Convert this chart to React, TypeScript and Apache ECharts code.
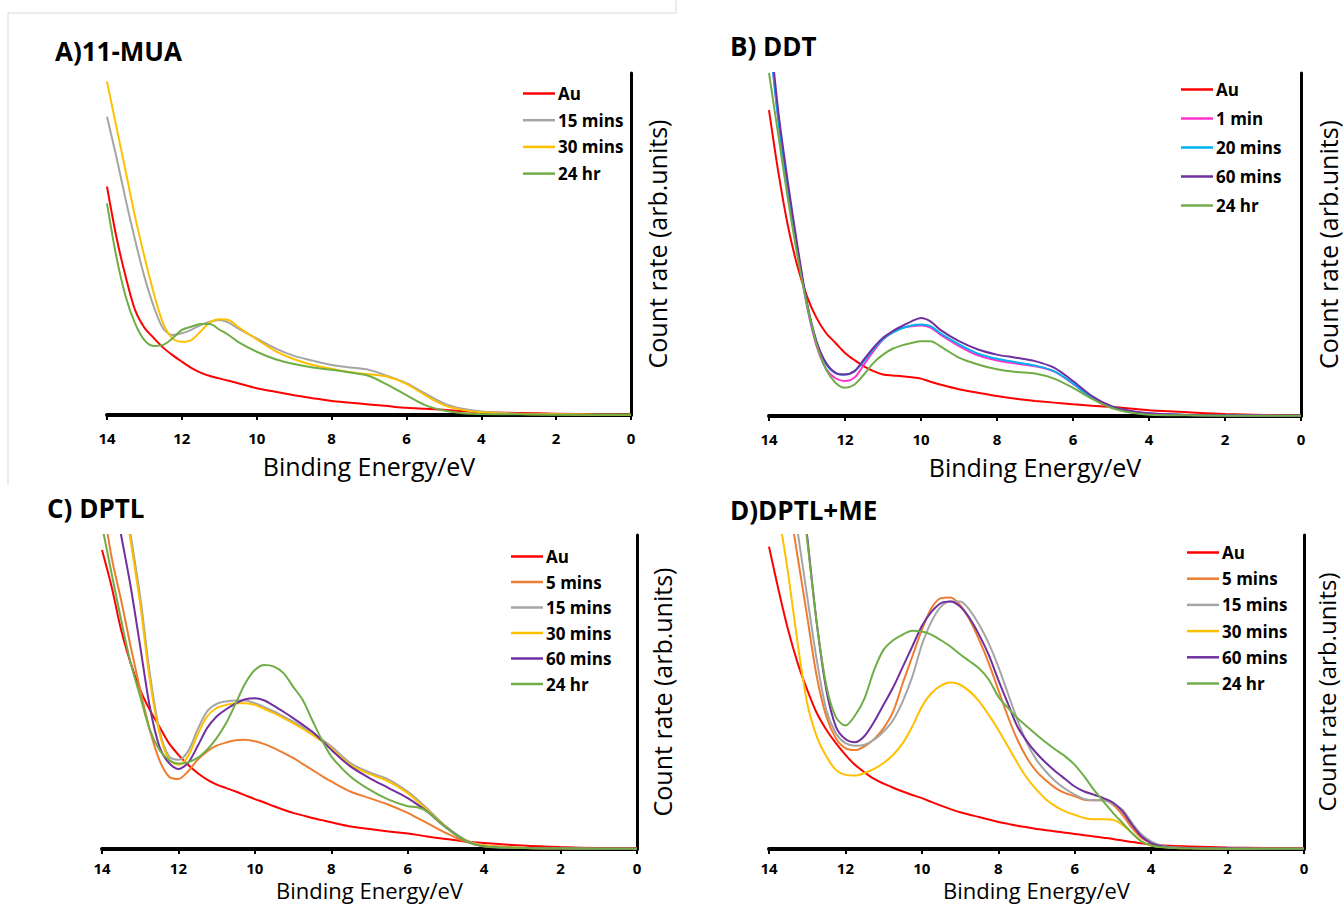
import React, { useEffect, useRef } from "react";
import * as echarts from "echarts";

// ---------- Panel A: 11-MUA ----------
const ENERGY_A = [14, 13.75, 13.5, 13.25, 13, 12.75, 12.5, 12.25, 12, 11.75, 11.5, 11.25, 11, 10.75, 10.5, 10, 9.5, 9, 8.5, 8, 7.5, 7, 6.5, 6, 5.5, 5, 4.5, 4, 3, 2, 1, 0];
const A_AU = [66.8, 52.1, 40.4, 30.7, 25.5, 22.5, 19.7, 17.5, 15.6, 13.8, 12.4, 11.4, 10.7, 10, 9.3, 7.8, 6.8, 5.8, 4.9, 4.1, 3.6, 3.1, 2.6, 2.1, 1.8, 1.5, 1.1, 0.8, 0.6, 0.4, 0.2, 0.1];
const A_15 = [87.2, 75.5, 62.9, 51.2, 40.4, 31.7, 25.3, 23.4, 23.9, 24.9, 26.3, 27.3, 27.8, 27, 25.3, 22.4, 19.5, 17.3, 15.9, 14.6, 13.9, 13.2, 11.4, 9.3, 6.3, 3.4, 1.8, 1.0, 0.4, 0.2, 0.1, 0.1];
const A_30 = [97.5, 84.3, 71.2, 58, 46.3, 35.6, 26.8, 22.4, 21.4, 21.9, 24.4, 27.1, 28, 27.8, 25.8, 22.1, 18.7, 16.3, 14.6, 13.5, 12.5, 11.9, 11.2, 9.1, 5.8, 2.9, 1.5, 0.8, 0.3, 0.2, 0.1, 0.1];
const A_24 = [61.9, 46.3, 34.6, 26.8, 21.9, 20.2, 20.5, 22.4, 24.9, 25.8, 26.6, 26.6, 25, 23.4, 21.4, 18.5, 16.3, 14.9, 13.9, 13.2, 12.4, 11.4, 8.8, 5.8, 2.9, 1.3, 0.5, 0.3, 0.2, 0.1, 0.1, 0.1];

// ---------- Panel B: DDT ----------
const ENERGY_B = [14, 13.75, 13.5, 13.25, 13, 12.75, 12.5, 12.25, 12, 11.75, 11.5, 11.25, 11, 10.75, 10.5, 10.25, 10, 9.75, 9.5, 9, 8.5, 8, 7.5, 7, 6.5, 6, 5.5, 5, 4.5, 4, 3, 2, 1, 0];
const B_AU = [89.2, 70.8, 55.3, 43.6, 34.9, 28.6, 24.2, 21.3, 18.4, 16.3, 14.5, 13.1, 12.1, 11.8, 11.6, 11.3, 10.9, 10, 9.2, 7.8, 6.8, 5.8, 5, 4.4, 3.9, 3.4, 3, 2.7, 2.2, 1.7, 1.1, 0.6, 0.3, 0.2];
const B_1 = [112, 86, 66, 48, 32, 20.5, 13.8, 11, 10.2, 11.2, 15, 18.9, 22.3, 24.4, 25.7, 26.2, 26.4, 25.8, 23.8, 20.4, 17.7, 16.2, 15.3, 14.5, 13, 9.4, 5.2, 2.6, 1.2, 0.6, 0.3, 0.2, 0.1, 0.1];
const B_20 = [112, 86, 66.5, 48.5, 32.5, 21.5, 15.2, 12.5, 12.1, 13, 16, 19.5, 22.4, 24.3, 25.6, 26.4, 26.7, 26.2, 24.2, 20.9, 18.2, 16.7, 15.7, 14.7, 13.1, 9.5, 5.3, 2.7, 1.3, 0.7, 0.3, 0.2, 0.1, 0.1];
const B_60 = [115, 88.3, 67.9, 49.5, 33, 21.8, 15.5, 12.6, 12.1, 13.1, 16.5, 19.9, 22.8, 24.7, 26.2, 27.6, 28.6, 27.6, 25.2, 21.8, 19.4, 17.9, 17, 16, 14.1, 10.2, 5.8, 2.9, 1.5, 0.8, 0.3, 0.2, 0.1, 0.1];
const B_24 = [100, 81.5, 63, 46.6, 32.5, 21, 13.6, 9.7, 8.2, 9.2, 12.1, 15.5, 17.9, 19.6, 20.6, 21.3, 21.8, 21.8, 20.4, 17, 15, 13.6, 12.8, 12.4, 10.9, 8.2, 5, 2.4, 1, 0.4, 0.2, 0.1, 0.1, 0.1];

// ---------- Panel C: DPTL ----------
const ENERGY_C = [14, 13.75, 13.5, 13.25, 13, 12.75, 12.5, 12.25, 12, 11.75, 11.5, 11.25, 11, 10.75, 10.5, 10.25, 10, 9.75, 9.5, 9.25, 9, 8.75, 8.5, 8.25, 8, 7.5, 7, 6.5, 6, 5.75, 5.5, 5, 4.5, 4, 3, 2, 1, 0];
const C_AU = [95.2, 83.6, 69.8, 59.2, 50.7, 44.3, 39, 33.7, 30, 26.8, 24.2, 22.1, 20.5, 19.4, 18.3, 17.1, 15.9, 14.8, 13.6, 12.5, 11.5, 10.7, 9.9, 9.2, 8.5, 7.2, 6.4, 5.6, 4.9, 4.5, 4, 3.2, 2.4, 1.9, 1.1, 0.6, 0.3, 0.2];
const C_5 = [112, 93, 79.3, 64.5, 50.7, 38, 28.4, 23.1, 22.3, 24.7, 28.4, 31.1, 32.9, 33.9, 34.6, 34.8, 34.3, 33.4, 32.1, 30.6, 29, 27.1, 25.2, 23.3, 21.5, 18.3, 16.2, 14.1, 11.5, 9.9, 8.3, 5.1, 2.4, 1.1, 0.4, 0.2, 0.1, 0.1];
const C_15 = [160, 140, 120, 100, 80.4, 56, 38, 29.5, 28.4, 31.1, 38, 43.8, 46.2, 47, 47.3, 47.3, 46.4, 45.2, 43.8, 42.2, 40.6, 38.8, 36.9, 34.9, 32.7, 27.4, 24.4, 22.1, 18.3, 15.8, 13, 7.2, 3, 1.1, 0.4, 0.2, 0.1, 0.1];
const C_30 = [155, 135, 117, 98, 78, 54, 37, 28.5, 26.8, 29.5, 36.4, 42.2, 44.9, 45.9, 46.4, 46.4, 45.9, 44.6, 43.3, 41.7, 40.1, 38.3, 36.4, 34.3, 32.1, 26.8, 23.9, 21.5, 17.8, 15.2, 12.5, 7, 2.8, 1.1, 0.4, 0.2, 0.1, 0.1];
const C_60 = [135, 117, 100, 83.6, 64.5, 45.4, 32.7, 27.4, 25.5, 27.4, 32.7, 38.5, 42.2, 44.5, 46.4, 47.7, 48, 47.3, 45.6, 43.7, 41.7, 39.6, 37.4, 34.6, 31.6, 26.3, 22.6, 19.4, 16.2, 14.2, 12, 6.9, 2.7, 0.8, 0.3, 0.2, 0.1, 0.1];
const C_24 = [103, 87.8, 73, 59.2, 48.6, 38, 31.6, 28.4, 27.2, 27.6, 29, 31.6, 35.3, 40.1, 46.4, 52.8, 57, 58.6, 58.1, 56, 51.7, 47.5, 41.1, 34.8, 29.5, 23.1, 18.9, 15.7, 13.6, 13.3, 12, 6.9, 2.7, 0.8, 0.3, 0.2, 0.1, 0.1];

// ---------- Panel D: DPTL+ME ----------
const ENERGY_D = [14, 13.75, 13.5, 13.25, 13, 12.75, 12.5, 12.25, 12, 11.75, 11.5, 11.25, 11, 10.75, 10.5, 10.25, 10, 9.75, 9.5, 9.25, 9, 8.75, 8.5, 8.25, 8, 7.75, 7.5, 7.25, 7, 6.75, 6.5, 6.25, 6, 5.75, 5.5, 5.25, 5, 4.75, 4.5, 4.25, 4, 3.75, 3.5, 3, 2, 1, 0];
const D_AU = [96.3, 82.5, 69.8, 59.2, 50.7, 43.3, 38, 33.7, 30, 26.8, 24.4, 22.3, 20.8, 19.5, 18.3, 17.2, 16.2, 15, 13.8, 12.7, 11.7, 10.9, 10.2, 9.4, 8.6, 8, 7.4, 6.9, 6.4, 6, 5.6, 5.2, 4.8, 4.4, 4, 3.6, 3.2, 2.7, 2.2, 1.8, 1.4, 1.2, 1, 0.8, 0.5, 0.3, 0.2];
const D_5 = [148, 130, 112, 93, 74, 54.9, 42.2, 35.3, 32.1, 31.5, 32.7, 35, 38.5, 43.8, 52.8, 61.3, 69.8, 76.7, 79.9, 80.1, 77.7, 73, 66.6, 59.2, 50.7, 42.2, 34.8, 29, 24.7, 21.8, 19.4, 17.8, 16.8, 15.7, 15.5, 15.5, 14.1, 10.9, 6.7, 3.5, 1.9, 1, 0.5, 0.3, 0.2, 0.1, 0.1];
const D_15 = [165, 143, 122, 101, 80.4, 60.2, 44.3, 36.9, 33.7, 32.9, 33.2, 34.8, 37.4, 41.1, 47, 54.9, 65, 72.4, 77.2, 78.8, 78.8, 76.1, 71.4, 65.5, 58.1, 49.6, 41.1, 33.7, 28.4, 24.6, 21.5, 19.2, 17.3, 15.9, 15.5, 15.5, 14.4, 12.5, 8.3, 4.6, 2.4, 1.2, 0.6, 0.3, 0.2, 0.1, 0.1];
const D_30 = [125, 107, 87.8, 65.5, 46.4, 35.8, 29.5, 25.2, 23.6, 23.4, 24.2, 25.5, 27.4, 30, 33.7, 39, 45.4, 49.6, 52, 53, 52.3, 50.2, 47, 42.7, 38, 32.7, 27.4, 22.6, 18.9, 15.8, 13.6, 12, 10.9, 9.9, 9.5, 9.5, 9.3, 7.7, 5.1, 2.4, 1.1, 0.6, 0.4, 0.2, 0.1, 0.1, 0.1];
const D_60 = [190, 170, 150, 127, 99.5, 71.9, 50.7, 39, 35, 34, 36, 40.5, 46, 51.5, 58, 64.5, 71, 75.5, 78.3, 78.8, 77.2, 73.5, 68.2, 61.8, 53.9, 46.4, 39, 34.3, 30.5, 27.4, 24.7, 22.3, 19.9, 18.3, 17.3, 16.2, 14.8, 12, 7.7, 4, 1.9, 1, 0.5, 0.3, 0.2, 0.1, 0.1];
const D_24 = [190, 170, 148, 124, 98.4, 71.9, 52, 42, 39.3, 42.5, 48, 57, 63.5, 66.5, 68.3, 69.5, 69.3, 68.3, 66.5, 64.5, 62, 59.8, 57.5, 54, 48.5, 45, 41.7, 39, 36.4, 33.9, 31.6, 29.5, 26.8, 23.1, 18.9, 15.2, 11.5, 8.3, 5.1, 2.4, 1.1, 0.6, 0.4, 0.2, 0.1, 0.1, 0.1];

// ---------- labels ----------
const TITLES = ["A)11-MUA", "B) DDT", "C) DPTL", "D)DPTL+ME"];
const X_TICKS = [0, 2, 4, 6, 8, 10, 12, 14];
const X_NAME = "Binding Energy/eV";
const Y_NAME = "Count rate (arb.units)";

const COLORS: Record<string, string> = {
  "Au": "#FF0000",
  "1 min": "#FF33CC",
  "5 mins": "#ED7D31",
  "15 mins": "#A5A5A5",
  "20 mins": "#00B0F0",
  "30 mins": "#FFC000",
  "60 mins": "#7030A0",
  "24 hr": "#70AD47",
};

const PANELS = [
  { energy: ENERGY_A, series: [["Au", A_AU], ["15 mins", A_15], ["30 mins", A_30], ["24 hr", A_24]] },
  { energy: ENERGY_B, series: [["Au", B_AU], ["1 min", B_1], ["20 mins", B_20], ["60 mins", B_60], ["24 hr", B_24]] },
  { energy: ENERGY_C, series: [["Au", C_AU], ["5 mins", C_5], ["15 mins", C_15], ["30 mins", C_30], ["60 mins", C_60], ["24 hr", C_24]] },
  { energy: ENERGY_D, series: [["Au", D_AU], ["5 mins", D_5], ["15 mins", D_15], ["30 mins", D_30], ["60 mins", D_60], ["24 hr", D_24]] },
] as const;

const FONT = "'Open Sans', Lato, sans-serif";

// layout
const GRIDS = [
  { left: 107, top: 73, width: 524, height: 342 },
  { left: 769, top: 73, width: 532, height: 343 },
  { left: 102, top: 535, width: 535, height: 314 },
  { left: 769, top: 535, width: 535, height: 314 },
];
const TITLE_POS = [
  { left: 55, top: 38 },
  { left: 730, top: 33 },
  { left: 47, top: 495 },
  { left: 730, top: 497 },
];
const LEGEND_POS = [
  { left: 523, top: 85, gap: 9.7 },
  { left: 1181, top: 81, gap: 12 },
  { left: 511, top: 548, gap: 8.5 },
  { left: 1187, top: 544, gap: 9.2 },
];
const XNAME_GAP = [38, 38, 30, 30];
const XNAME_SIZE = [25, 25, 22, 22];
const XLABEL_MARGIN = [15, 15, 11, 11];
const YNAME_GAP = [13, 14, 12, 10];
const YNAME_SIZE = [25, 25, 25, 24];

export default function App() {
  const ref = useRef<HTMLDivElement>(null);
  useEffect(() => {
    if (!ref.current) return;
    const chart = echarts.init(ref.current, undefined, { renderer: "svg" });
    const series: any[] = [];
    PANELS.forEach((p, i) => {
      p.series.forEach(([name, vals]) => {
        const color = COLORS[name as string];
        series.push({
          type: "line",
          name,
          xAxisIndex: i,
          yAxisIndex: i,
          data: (p.energy as readonly number[]).map((e, k) => [e, (vals as readonly number[])[k]]),
          showSymbol: false,
          symbol: "none",
          smooth: 0.3,
          clip: true,
          silent: true,
          lineStyle: { color, width: 2 },
          itemStyle: { color },
        });
      });
    });
    const option: any = {
      animation: false,
      backgroundColor: "#ffffff",
      title: TITLES.map((t, i) => ({
        text: t,
        left: TITLE_POS[i].left,
        top: TITLE_POS[i].top,
        padding: 0,
        textStyle: { fontSize: 26, fontWeight: "bold", color: "#000", fontFamily: FONT },
      })),
      legend: PANELS.map((p, i) => ({
        data: p.series.map((s) => s[0]),
        orient: "vertical",
        left: LEGEND_POS[i].left,
        top: LEGEND_POS[i].top,
        padding: 0,
        icon: "rect",
        itemWidth: 32,
        itemHeight: 2.5,
        itemGap: LEGEND_POS[i].gap,
        selectedMode: false,
        textStyle: { fontSize: 17, fontWeight: "bold", color: "#000", fontFamily: FONT, padding: [0, 0, 0, -2] },
      })),
      grid: GRIDS.map((g) => ({ ...g, containLabel: false })),
      xAxis: GRIDS.map((_, i) => ({
        gridIndex: i,
        type: "value",
        min: X_TICKS[0],
        max: X_TICKS[X_TICKS.length - 1],
        interval: 2,
        inverse: true,
        axisLine: { show: true, onZero: false, lineStyle: { color: "#000", width: 4 } },
        axisTick: { show: true, length: 5, lineStyle: { color: "#000", width: 2 } },
        splitLine: { show: false },
        axisLabel: { color: "#000", fontWeight: "bold", fontSize: 15, lineHeight: 15, margin: XLABEL_MARGIN[i], fontFamily: FONT },
        name: X_NAME,
        nameLocation: "middle",
        nameGap: XNAME_GAP[i],
        nameTextStyle: { fontSize: XNAME_SIZE[i], lineHeight: XNAME_SIZE[i], color: "#000", fontFamily: FONT },
      })),
      yAxis: GRIDS.map((_, i) => ({
        gridIndex: i,
        type: "value",
        min: 0,
        max: 100,
        position: "right",
        axisLine: { show: true, onZero: false, lineStyle: { color: "#000", width: 3 } },
        axisTick: { show: false },
        axisLabel: { show: false },
        splitLine: { show: false },
        name: Y_NAME,
        nameLocation: "middle",
        nameRotate: 90,
        nameGap: YNAME_GAP[i],
        nameTextStyle: { fontSize: YNAME_SIZE[i], lineHeight: YNAME_SIZE[i], color: "#000", fontFamily: FONT },
      })),
      graphic: [
        { type: "line", shape: { x1: 8, y1: 13, x2: 676, y2: 13 }, style: { stroke: "#d9d9d9", lineWidth: 1 }, silent: true },
        { type: "line", shape: { x1: 8, y1: 13, x2: 8, y2: 485 }, style: { stroke: "#d9d9d9", lineWidth: 1 }, silent: true },
        { type: "line", shape: { x1: 676, y1: 0, x2: 676, y2: 13 }, style: { stroke: "#d9d9d9", lineWidth: 1 }, silent: true },
      ],
      series,
    };
    chart.setOption(option);
    return () => chart.dispose();
  }, []);
  return (
    <div
      ref={ref}
      style={{ position: "absolute", left: 0, top: 0, width: 1344, height: 907 }}
    />
  );
}
